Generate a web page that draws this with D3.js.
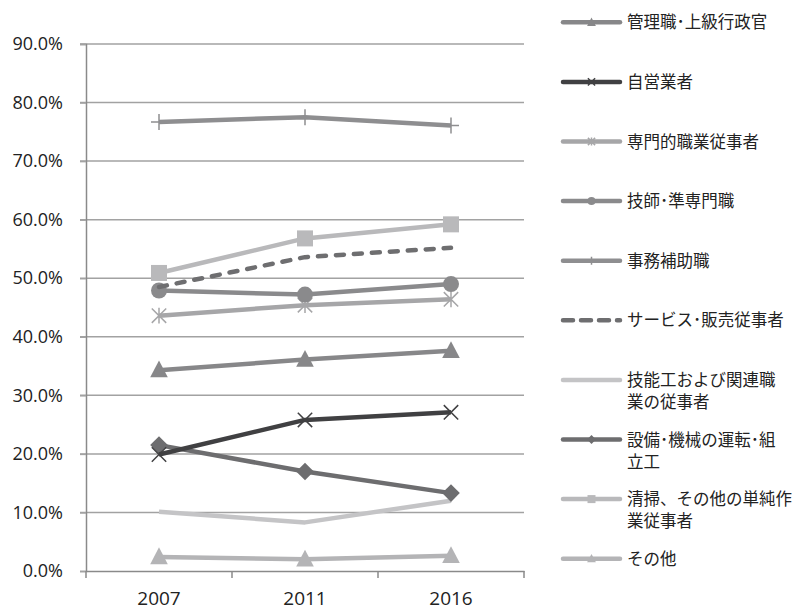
<!DOCTYPE html>
<html>
<head>
<meta charset="utf-8">
<script src="https://cdn.jsdelivr.net/npm/d3@7"></script>
<style>
  body { margin: 0; background: #fff; }
  svg { display: block; }
</style>
</head>
<body>
<div id="chart"></div>
<script>
const years = ["2007", "2011", "2016"];
const yTicks = [0, 0.1, 0.2, 0.3, 0.4, 0.5, 0.6, 0.7, 0.8, 0.9];

const seriesNames = [
  "管理職･上級行政官", "自営業者", "専門的職業従事者", "技師･準専門職", "事務補助職",
  "サービス･販売従事者", "技能工および関連職業の従事者", "設備･機械の運転･組立工",
  "清掃、その他の単純作業従事者", "その他"
];
// legend text split over lines like the original
const legendLines = [
  ["管理職･上級行政官"], ["自営業者"], ["専門的職業従事者"], ["技師･準専門職"], ["事務補助職"],
  ["サービス･販売従事者"], ["技能工および関連職", "業の従事者"], ["設備･機械の運転･組", "立工"],
  ["清掃、その他の単純作", "業従事者"], ["その他"]
];
const values = [
  [0.343, 0.361, 0.376],
  [0.199, 0.258, 0.271],
  [0.436, 0.454, 0.464],
  [0.479, 0.472, 0.490],
  [0.767, 0.775, 0.761],
  [0.485, 0.536, 0.552],
  [0.101, 0.083, 0.120],
  [0.215, 0.170, 0.133],
  [0.509, 0.568, 0.592],
  [0.024, 0.020, 0.026]
];
const colors = ["#878789", "#404042", "#a6a6a8", "#8a8a8c", "#8e8e90",
                "#6e6e70", "#c4c4c6", "#6d6d6f", "#b9b9bb", "#b4b4b6"];
const markers = ["triangle", "x", "asterisk", "circle", "plus",
                 "none", "none", "diamond", "square", "triangle"];

const W = 794, H = 610;
const svg = d3.select("#chart").append("svg").attr("width", W).attr("height", H);

const x = d3.scaleBand().domain(years).range([86, 524]);
const y = d3.scaleLinear().domain([0, 0.9]).range([571, 44]);
const cx = d => x(d) + x.bandwidth() / 2;

// grid
svg.append("g").selectAll("line").data(yTicks.slice(1)).enter().append("line")
  .attr("x1", 80).attr("x2", 524)
  .attr("y1", d => y(d)).attr("y2", d => y(d))
  .attr("stroke", "#a2a2a2").attr("stroke-width", 1.5);

// y axis
const yAxis = svg.append("g").attr("transform", "translate(86,0)")
  .call(d3.axisLeft(y).tickValues(yTicks).tickFormat(d3.format(".1%")).tickSize(6).tickPadding(17));
yAxis.select(".domain").attr("stroke", "#8a8a8a").attr("stroke-width", 1.5);
yAxis.selectAll(".tick line").attr("stroke", "#a2a2a2").attr("stroke-width", 1.5);
yAxis.selectAll("text").attr("font-family", "'Open Sans', sans-serif").attr("font-size", 18).attr("fill", "#222");

// x axis
const xAxis = svg.append("g").attr("transform", "translate(0,571)")
  .call(d3.axisBottom(x).tickSize(0).tickPadding(21));
xAxis.select(".domain").attr("stroke", "#8a8a8a").attr("stroke-width", 1.5);
xAxis.selectAll("text").attr("font-family", "'Open Sans', sans-serif").attr("font-size", 19).attr("fill", "#222");
// boundary ticks
svg.append("g").selectAll("line").data([86, ...years.map(d => x(d) + x.bandwidth())]).enter().append("line")
  .attr("x1", d => d).attr("x2", d => d).attr("y1", 571).attr("y2", 578)
  .attr("stroke", "#8a8a8a").attr("stroke-width", 1.5);

function drawMarker(g, type, color, s) {
  if (type === "triangle") {
    g.append("path").attr("d", `M0,${-s * 0.6}L${s * 0.55},${s * 0.45}L${-s * 0.55},${s * 0.45}Z`).attr("fill", color);
  } else if (type === "square") {
    g.append("rect").attr("x", -s / 2).attr("y", -s / 2).attr("width", s).attr("height", s).attr("fill", color);
  } else if (type === "circle") {
    g.append("circle").attr("r", s / 2).attr("fill", color);
  } else if (type === "diamond") {
    g.append("path").attr("d", `M0,${-s * 0.55}L${s * 0.55},0L0,${s * 0.55}L${-s * 0.55},0Z`).attr("fill", color);
  } else if (type === "x") {
    const r = s * 0.45;
    g.append("path").attr("d", `M${-r},${-r}L${r},${r}M${-r},${r}L${r},${-r}`)
      .attr("stroke", color).attr("stroke-width", 1.5).attr("fill", "none");
  } else if (type === "asterisk") {
    const r = s * 0.45;
    g.append("path").attr("d", `M${-r},${-r}L${r},${r}M${-r},${r}L${r},${-r}M0,${-r * 1.1}L0,${r * 1.1}`)
      .attr("stroke", color).attr("stroke-width", 1.5).attr("fill", "none");
  } else if (type === "plus") {
    const r = s * 0.5;
    g.append("path").attr("d", `M0,${-r}L0,${r}M${-r},0L${r},0`)
      .attr("stroke", color).attr("stroke-width", 1.5).attr("fill", "none");
  }
}

const line = d3.line().x((d, i) => cx(years[i])).y(d => y(d));

// draw order: light ones first
const order = [6, 9, 8, 2, 3, 5, 4, 0, 7, 1];
order.forEach(k => {
  svg.append("path").datum(values[k]).attr("d", line)
    .attr("fill", "none").attr("stroke", colors[k])
    .attr("stroke-width", 4.5)
    .attr("stroke-linejoin", "round")
    .attr("stroke-linecap", k === 5 ? "round" : "butt")
    .attr("stroke-dasharray", k === 5 ? "8,10" : null);
  values[k].forEach((v, i) => {
    const g = svg.append("g").attr("transform", `translate(${cx(years[i])},${y(v)})`);
    drawMarker(g, markers[k], colors[k], 16);
  });
});

// legend
const lg = svg.append("g");
seriesNames.forEach((name, i) => {
  const ly = 22.3 + i * 59.6;
  lg.append("line").attr("x1", 563).attr("x2", 620).attr("y1", ly).attr("y2", ly)
    .attr("stroke", colors[i]).attr("stroke-width", 4.5).attr("stroke-linecap", "round")
    .attr("stroke-dasharray", i === 5 ? "10,8" : null);
  const g = lg.append("g").attr("transform", `translate(591.5,${ly})`);
  drawMarker(g, markers[i], colors[i], 8);
  const t = lg.append("text").attr("x", 627).attr("y", ly + 6)
    .attr("font-family", "'Noto Sans CJK JP', sans-serif").attr("font-size", 16.5).attr("fill", "#222");
  legendLines[i].forEach((s, j) => {
    t.append("tspan").attr("x", 627).attr("dy", j === 0 ? 0 : 22).text(s);
  });
});
</script>
</body>
</html>
